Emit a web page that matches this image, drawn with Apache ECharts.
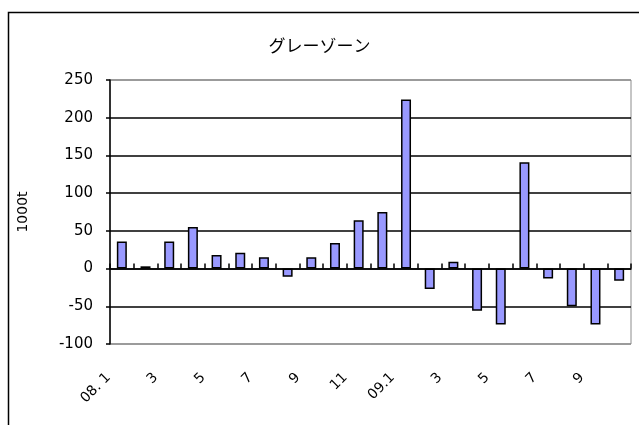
<!DOCTYPE html>
<html>
<head>
<meta charset="utf-8">
<script src="https://cdn.jsdelivr.net/npm/echarts@6/dist/echarts.min.js"></script>
<style>
  html, body { margin: 0; padding: 0; background: #fff; }
  #chart { width: 639px; height: 425px; }
</style>
</head>
<body>
<div id="chart"></div>
<script>
// Monthly grey-zone volume, Jan 2008 – Oct 2009 (unit: 1000t)
const months = ['2008-01','2008-02','2008-03','2008-04','2008-05','2008-06','2008-07','2008-08','2008-09','2008-10','2008-11','2008-12',
                '2009-01','2009-02','2009-03','2009-04','2009-05','2009-06','2009-07','2009-08','2009-09','2009-10'];
const monthLabels = ['08. 1','2','3','4','5','6','7','8','9','10','11','12',
                     '09.1','2','3','4','5','6','7','8','9','10'];
const greyZone = [36, 3, 36, 55, 18, 21, 15, -11, 15, 34, 64, 75, 224, -27, 9, -56, -74, 141, -13, -50, -74, -16];
const yTicks = { min: -100, max: 250, step: 50 };

const chart = echarts.init(document.getElementById('chart'), null, { renderer: 'canvas' });

// outer gridlines (top/bottom) are grey like the plot border, inner ones black
const gridLineColors = [];
for (let v = yTicks.min; v <= yTicks.max; v += yTicks.step) {
  gridLineColors.push(v === yTicks.min || v === yTicks.max ? '#8c8c8c' : '#000');
}

chart.setOption({
  backgroundColor: '#fff',
  animation: false,
  title: {
    text: 'グレーゾーン',
    left: 'center',
    top: 32,
    textStyle: { fontFamily: 'Noto Sans CJK JP', fontSize: 17, fontWeight: 'normal', color: '#000' }
  },
  graphic: [{
    type: 'rect',
    shape: { x: 8.5, y: 12.5, width: 700, height: 500 },
    style: { fill: 'none', stroke: '#000', lineWidth: 1.5 },
    silent: true, z: 0
  }],
  grid: {
    left: 110, right: 8, top: 80, bottom: 81,
    show: true, borderColor: '#8c8c8c', borderWidth: 1, backgroundColor: 'transparent'
  },
  xAxis: [{
    // month labels along the bottom edge
    type: 'category',
    data: months,
    position: 'bottom',
    axisLine: { show: false, onZero: false },
    axisTick: { show: false },
    axisLabel: {
      interval: 1,
      rotate: 45,
      margin: 18,
      padding: [0, 19, 0, 0],
      fontFamily: 'DejaVu Sans',
      fontSize: 14,
      color: '#000',
      formatter: (v, i) => monthLabels[i]
    }
  }, {
    // zero line with category boundary ticks
    type: 'category',
    data: months,
    position: 'top',
    axisLine: { show: true, onZero: true, lineStyle: { color: '#000', width: 1.5 } },
    axisTick: { show: true, interval: 0, inside: false, length: 5, lineStyle: { color: '#000', width: 1.5 } },
    axisLabel: { show: false }
  }],
  yAxis: {
    type: 'value',
    min: yTicks.min,
    max: yTicks.max,
    interval: yTicks.step,
    name: '1000t',
    nameLocation: 'middle',
    nameGap: 80,
    nameTextStyle: { fontFamily: 'DejaVu Sans', fontSize: 14, color: '#000' },
    axisLine: { show: true, lineStyle: { color: '#000', width: 1.5 } },
    axisTick: { show: true, length: 4, lineStyle: { color: '#000', width: 1.5 } },
    axisLabel: { margin: 17, fontFamily: 'DejaVu Sans', fontSize: 15, color: '#000' },
    splitLine: { show: true, lineStyle: { color: gridLineColors, width: 1.5 } }
  },
  series: [{
    type: 'bar',
    xAxisIndex: 0,
    data: greyZone,
    barWidth: 10,
    itemStyle: { color: '#9999ff', borderColor: '#000', borderWidth: 1.5 },
    z: 3
  }]
});
</script>
</body>
</html>
